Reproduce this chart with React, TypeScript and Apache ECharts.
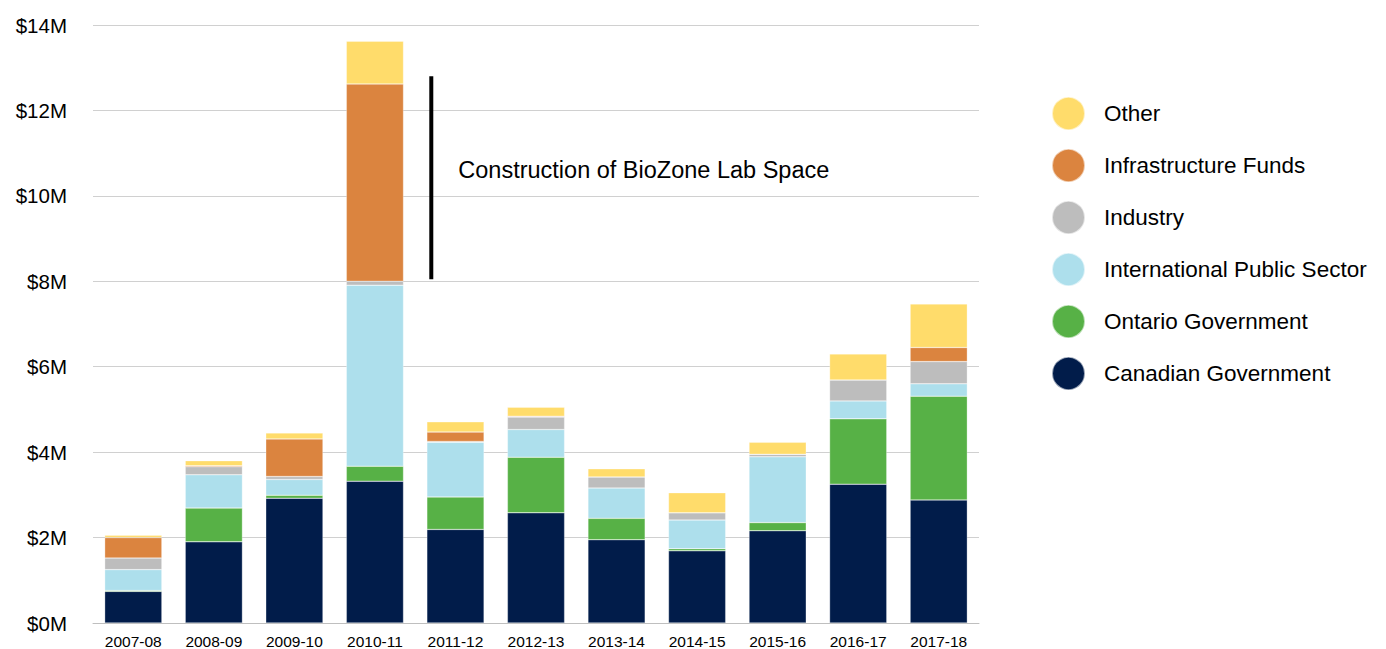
import React, { useEffect, useRef } from "react";
import * as echarts from "echarts";

const categories = ["2007-08", "2008-09", "2009-10", "2010-11", "2011-12", "2012-13", "2013-14", "2014-15", "2015-16", "2016-17", "2017-18"];
const canadian = [0.74, 1.9, 2.92, 3.32, 2.19, 2.58, 1.95, 1.69, 2.16, 3.25, 2.88];
const ontario = [0.02, 0.79, 0.07, 0.35, 0.76, 1.3, 0.5, 0.05, 0.19, 1.53, 2.43];
const international = [0.49, 0.78, 0.37, 4.24, 1.28, 0.65, 0.71, 0.67, 1.54, 0.42, 0.29];
const industry = [0.27, 0.19, 0.07, 0.09, 0.02, 0.29, 0.26, 0.17, 0.06, 0.49, 0.52];
const infrastructure = [0.48, 0.02, 0.88, 4.62, 0.22, 0.02, 0, 0, 0, 0, 0.33];
const other = [0.055, 0.12, 0.14, 1.0, 0.24, 0.21, 0.19, 0.47, 0.28, 0.61, 1.02];
const yTicks = [0, 2, 4, 6, 8, 10, 12, 14];
const annotationRange = [8.05, 12.8];
const annotationText = "Construction of BioZone Lab Space";

const seriesDefs = [
  { name: "Canadian Government", data: canadian, color: "#011C4A" },
  { name: "Ontario Government", data: ontario, color: "#57B146" },
  { name: "International Public Sector", data: international, color: "#ADDFEC" },
  { name: "Industry", data: industry, color: "#BDBDBD" },
  { name: "Infrastructure Funds", data: infrastructure, color: "#DB843F" },
  { name: "Other", data: other, color: "#FFDC6B" },
];

export default function App() {
  const ref = useRef<HTMLDivElement>(null);
  useEffect(() => {
    if (!ref.current) return;
    const chart = echarts.init(ref.current, null, { renderer: "svg" });
    const font = "'Liberation Sans', Arial, sans-serif";
    chart.setOption({
      animation: false,
      textStyle: { fontFamily: font },
      grid: { left: 93, right: 407, top: 25, bottom: 24, containLabel: false },
      legend: {
        orient: "vertical",
        left: 1046,
        top: 91,
        icon: "circle",
        itemWidth: 33,
        itemHeight: 33,
        itemGap: 17,
        selectedMode: false,
        data: seriesDefs.map((s) => s.name).reverse(),
        textStyle: { fontSize: 22.5, color: "#000", fontFamily: font, padding: [0, 0, 0, 14] },
      },
      xAxis: {
        type: "category",
        data: categories,
        axisTick: { show: false },
        axisLine: { lineStyle: { color: "#BFBFBF", width: 1 } },
        axisLabel: { fontSize: 15.5, color: "#000", margin: 10, fontFamily: font },
      },
      yAxis: {
        type: "value",
        min: yTicks[0],
        max: yTicks[yTicks.length - 1],
        interval: 2,
        axisLine: { show: false },
        axisTick: { show: false },
        splitLine: { lineStyle: { color: "#D0D0D0", width: 1 } },
        axisLabel: { fontSize: 20.5, color: "#000", margin: 26, fontFamily: font, formatter: (v: number) => `$${v}M` },
      },
      series: seriesDefs.map((s) => ({
        type: "bar",
        name: s.name,
        stack: "total",
        data: s.data,
        barCategoryGap: "29%",
        itemStyle: { color: s.color, borderColor: "rgba(255,255,255,0.6)", borderWidth: 0.5 },
      })),
    });
    const x1 = chart.convertToPixel({ xAxisIndex: 0 }, categories[3]);
    const x2 = chart.convertToPixel({ xAxisIndex: 0 }, categories[4]);
    const lx = x1 + (x2 - x1) * 0.7;
    const yTop = chart.convertToPixel({ yAxisIndex: 0 }, annotationRange[1]);
    const yBot = chart.convertToPixel({ yAxisIndex: 0 }, annotationRange[0]);
    chart.setOption({
      graphic: [
        { type: "line", shape: { x1: lx, y1: yTop, x2: lx, y2: yBot }, style: { stroke: "#000", lineWidth: 4 } },
        {
          type: "text",
          x: lx + 27,
          y: (yTop + yBot) / 2 - 8,
          style: { text: annotationText, fontSize: 23.5, fill: "#000", fontFamily: font, textVerticalAlign: "middle" },
        },
      ],
    });
    return () => chart.dispose();
  }, []);
  return <div ref={ref} style={{ width: 1386, height: 649, position: "absolute", left: 0, top: 0 }} />;
}
